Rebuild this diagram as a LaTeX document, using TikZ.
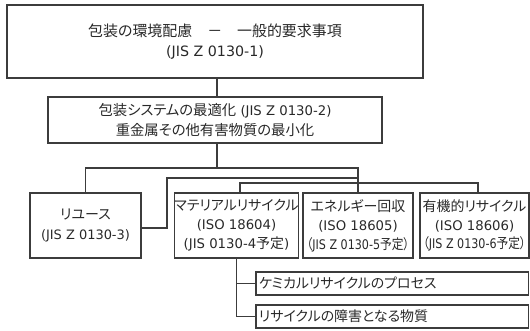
\documentclass[tikz,border=0pt]{standalone}
\usepackage{fontspec}
\setmainfont{DejaVu Sans}
\newfontfamily\jpfont[RawFeature=+palt]{Noto Sans CJK JP}
\definecolor{ln}{RGB}{60,60,60}
\definecolor{tx}{RGB}{40,40,40}
\begin{document}
\begin{tikzpicture}[x=1bp,y=-1bp,
  box/.style={draw=ln, line width=1.4bp, align=center, text=tx, inner sep=0pt},
  subbox/.style={draw=ln, line width=1.4bp, align=left, text=tx, inner xsep=3bp, inner ysep=0pt,
     minimum width=272.5bp, text width=266.5bp, minimum height=23bp, font=\jpfont\fontsize{14}{16}\selectfont},
  conn/.style={draw=ln, line width=1.4bp}]
\useasboundingbox (0,0) rectangle (530,330);

\node[box, line width=1.8bp, minimum width=416bp, minimum height=73bp,
  font=\fontsize{14.3}{20}\selectfont] (b1) at (215,41.5)
  {{\jpfont\fontsize{15}{20}\selectfont 包装の環境配慮　－　一般的要求事項}\\(JIS Z 0130-1)};

\node[box, line width=2.6bp, minimum width=334bp, minimum height=46bp,
  font=\fontsize{13.3}{21}\selectfont] (b2) at (215,120)
  {{\jpfont\fontsize{14.4}{21}\selectfont 包装システムの最適化} (JIS Z 0130-2)\\{\jpfont\fontsize{14.4}{21}\selectfont 重金属その他有害物質の最小化}};

\node[box, minimum width=111bp, minimum height=65bp, font=\fontsize{13}{20}\selectfont] (reuse) at (85.5,225.5)
  {{\jpfont\fontsize{14}{20}\selectfont リユース}\\(JIS Z 0130-3)};

\node[box, minimum width=123bp, minimum height=65bp, font=\fontsize{13.3}{19}\selectfont] (mat) at (236.5,225.5)
  {{\jpfont\fontsize{14}{19}\selectfont マテリアルリサイクル}\\(ISO 18604)\\(JIS 0130-4{\jpfont\fontsize{14}{19}\selectfont 予定})};

\node[box, minimum width=110bp, minimum height=65bp, font=\fontsize{13.3}{19}\selectfont] (energy) at (358,225.5)
  {{\jpfont\fontsize{14}{19}\selectfont エネルギー回収}\\(ISO 18605)\\\scalebox{0.84}[1]{{\jpfont\fontsize{14}{19}\selectfont （}JIS Z 0130-5{\jpfont\fontsize{14}{19}\selectfont 予定）}}};

\node[box, minimum width=109bp, minimum height=65bp, font=\fontsize{13.3}{19}\selectfont] (org) at (474.5,225.5)
  {{\jpfont\fontsize{14}{19}\selectfont 有機的リサイクル}\\(ISO 18606)\\\scalebox{0.84}[1]{{\jpfont\fontsize{14}{19}\selectfont （}JIS Z 0130-6{\jpfont\fontsize{14}{19}\selectfont 予定）}}};

\node[subbox] (sub1) at (392.25,283.5) {ケミカルリサイクルのプロセス};
\node[subbox] (sub2) at (392.25,316.5) {リサイクルの障害となる物質};

\coordinate (t1) at (217,168);
\coordinate (c2) at (167,178);
\coordinate (c3) at (240,183);
\coordinate (c4) at (478,183);

\draw[conn] (b1.south -| t1) -- (b2.north -| t1);
\draw[conn] (b2.south -| t1) -- (t1);
\draw[conn] (reuse.north) |- (energy.north |- t1) -- (energy.north);
\draw[conn] ([yshift=-2.5bp]reuse.east) -| (c2) -- (energy.north |- c2);
\draw[conn] (mat.north -| c3) -- (c3) -- (c4) -- (org.north -| c4);
\draw[conn] (mat.south) |- (sub1.west);
\draw[conn] (mat.south) |- (sub2.west);
\end{tikzpicture}
\end{document}
